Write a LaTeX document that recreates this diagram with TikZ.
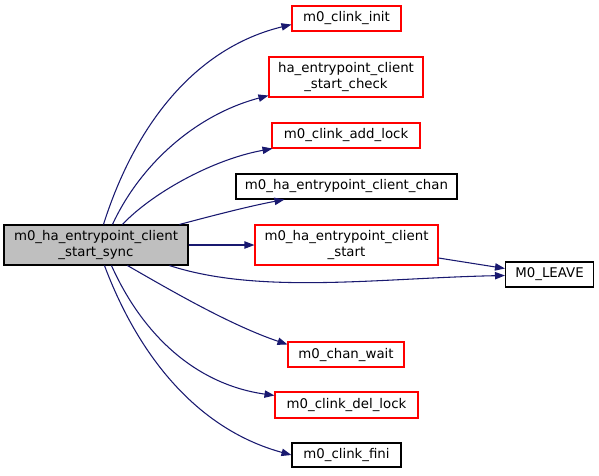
\documentclass[tikz,border=0pt]{standalone}
\usepackage{fontspec}
\setmainfont{DejaVu Sans}
\usetikzlibrary{arrows.meta,calc}
\definecolor{edgeblue}{HTML}{191970}
\definecolor{maingray}{HTML}{BFBFBF}
\tikzset{
  fnbox/.style 2 args={draw, rectangle, inner sep=0pt, line width=0.8pt,
    font=\fontsize{10}{12.5}\selectfont, align=center,
    minimum width=#1*0.75pt, minimum height=#2*0.75pt},
  redbox/.style={draw=red},
  blackbox/.style={draw=black},
  mainbox/.style={draw=black, fill=maingray},
  call/.style={draw=edgeblue, line width=0.8pt,
    -{Triangle[length=7.5pt,width=5.5pt]}}
}
\begin{document}
\begin{tikzpicture}[x=0.75pt,y=-0.75pt]
\useasboundingbox (0,0) rectangle (599,475);
\node[fnbox={184}{40}, mainbox] (main) at (96,245) {m0\_ha\_entrypoint\_client\\\_start\_sync};
\node[fnbox={109}{25}, redbox] (init) at (346.5,18.5) {m0\_clink\_init};
\node[fnbox={154}{40}, redbox] (chk) at (346,77) {ha\_entrypoint\_client\\\_start\_check};
\node[fnbox={148}{25}, redbox] (lock) at (346,135.5) {m0\_clink\_add\_lock};
\node[fnbox={221}{25}, blackbox] (chan) at (346.5,186.5) {m0\_ha\_entrypoint\_client\_chan};
\node[fnbox={183}{40}, redbox] (start) at (346.5,245) {m0\_ha\_entrypoint\_client\\\_start};
\node[fnbox={88}{25}, blackbox] (leave) at (549.5,274.5) {M0\_LEAVE};
\node[fnbox={116}{25}, redbox] (wait) at (346,354.5) {m0\_chan\_wait};
\node[fnbox={143}{26}, redbox] (dlock) at (346.5,405) {m0\_clink\_del\_lock};
\node[fnbox={109}{24}, blackbox] (fini) at (346.5,455) {m0\_clink\_fini};

\draw[call] ($(main.north west)+(100,0)$) .. controls (135,125) and (195,48) .. ($(init.south west)+(0,-7)$);
\draw[call] ($(main.north west)+(109,0)$) .. controls (140,165) and (195,115) .. ($(chk.south west)+(0,-2)$);
\draw[call] ($(main.north west)+(119,0)$) .. controls (150,195) and (210,160) .. ($(lock.south west)+(1,0)$);
\draw[call] ($(main.north west)+(176,0)$) .. controls (215,215) and (250,206) .. ($(chan.south west)+(49,0)$);
\draw[call] (main.east) -- (start.west);
\draw[call] ($(main.south west)+(166,0)$) .. controls (260,295) and (380,278) .. ($(leave.west)+(0,1)$);
\draw[call] ($(start.east)+(0,13)$) -- ($(leave.west)+(0,-6)$);
\draw[call] ($(main.south west)+(124,0)$) .. controls (170,290) and (230,325) .. ($(wait.north west)+(0,3)$);
\draw[call] ($(main.south west)+(108,0)$) .. controls (145,340) and (200,385) .. ($(dlock.north west)+(0,4)$);
\draw[call] ($(main.south west)+(101,0)$) .. controls (140,360) and (200,430) .. (fini.west);
\end{tikzpicture}
\end{document}
